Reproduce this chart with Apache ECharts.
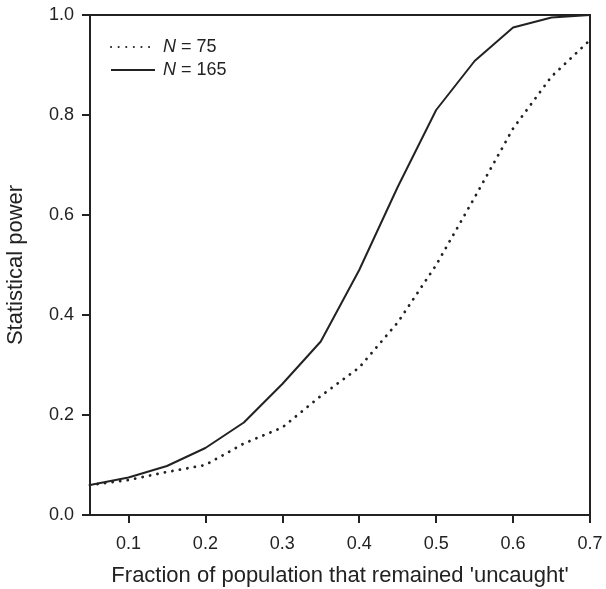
<!DOCTYPE html>
<html>
<head>
<meta charset="utf-8">
<script src="https://cdn.jsdelivr.net/npm/echarts@6/dist/echarts.min.js"></script>
<style>
  html, body { margin: 0; padding: 0; background: #fff; }
  #chart { width: 606px; height: 589px; }
</style>
</head>
<body>
<div id="chart"></div>
<script>
// fraction uncaught (x) and statistical power for the two sample sizes
var fractions = [0.05, 0.1, 0.15, 0.2, 0.25, 0.3, 0.35, 0.4, 0.45, 0.5, 0.55, 0.6, 0.65, 0.7];
var powerN75 = [0.06, 0.07, 0.086, 0.10, 0.143, 0.175, 0.238, 0.295, 0.385, 0.50, 0.635, 0.773, 0.877, 0.95];
var powerN165 = [0.06, 0.075, 0.098, 0.134, 0.185, 0.262, 0.347, 0.49, 0.656, 0.81, 0.908, 0.975, 0.995, 1.0];
var xTicks = [0.1, 0.2, 0.3, 0.4, 0.5, 0.6, 0.7];
var yTicks = [0, 0.2, 0.4, 0.6, 0.8, 1.0];

function pairs(xs, ys) {
  return xs.map(function (x, i) { return [x, ys[i]]; });
}

var chart = echarts.init(document.getElementById('chart'));
var ink = '#222';
var font = 'Liberation Sans, Arial, sans-serif';

chart.setOption({
  animation: false,
  backgroundColor: '#fff',
  textStyle: { fontFamily: font, color: ink },
  grid: {
    left: 90, right: 16, top: 15, bottom: 74,
    outerBoundsMode: 'none',
    show: true, borderColor: ink, borderWidth: 2
  },
  legend: {
    orient: 'vertical',
    left: 105, top: 33,
    itemWidth: 44, itemHeight: 12, itemGap: 5,
    itemStyle: { opacity: 0 },
    data: ['N75', 'N165'],
    formatter: function (name) {
      return name === 'N75' ? '{i|N} = 75' : '{i|N} = 165';
    },
    textStyle: {
      fontSize: 18, color: ink, fontFamily: font, padding: [0, 0, 0, 3],
      rich: { i: { fontStyle: 'italic', fontSize: 18, color: ink, fontFamily: font } }
    }
  },
  xAxis: {
    type: 'value',
    min: 0.05, max: 0.7,
    name: "Fraction of population that remained 'uncaught'",
    nameLocation: 'middle', nameGap: 50,
    nameTextStyle: { fontSize: 22, color: ink, fontFamily: font },
    axisLine: { show: true, lineStyle: { color: ink, width: 2 } },
    axisTick: { show: true, length: 8, inside: false, customValues: xTicks, lineStyle: { color: ink, width: 2 } },
    axisLabel: {
      customValues: xTicks, margin: 20, fontSize: 18, color: ink, fontFamily: font,
      formatter: function (v) { return v.toFixed(1); }
    },
    splitLine: { show: false }
  },
  yAxis: {
    type: 'value',
    min: 0, max: 1, interval: 0.2,
    name: 'Statistical power',
    nameLocation: 'middle', nameGap: 63,
    nameTextStyle: { fontSize: 22, color: ink, fontFamily: font },
    axisLine: { show: true, lineStyle: { color: ink, width: 2 } },
    axisTick: { show: true, length: 8, customValues: yTicks, lineStyle: { color: ink, width: 2 } },
    axisLabel: {
      customValues: yTicks, margin: 16, fontSize: 18, color: ink, fontFamily: font,
      formatter: function (v) { return v.toFixed(1); }
    },
    splitLine: { show: false }
  },
  series: [
    {
      name: 'N75',
      type: 'line',
      data: pairs(fractions, powerN75),
      showSymbol: false, symbol: 'none',
      itemStyle: { color: ink },
      lineStyle: { color: ink, width: 2.8, type: [0.1, 7.5], cap: 'round' }
    },
    {
      name: 'N165',
      type: 'line',
      data: pairs(fractions, powerN165),
      showSymbol: false, symbol: 'none',
      itemStyle: { color: ink },
      lineStyle: { color: ink, width: 2 }
    }
  ]
});
</script>
</body>
</html>
